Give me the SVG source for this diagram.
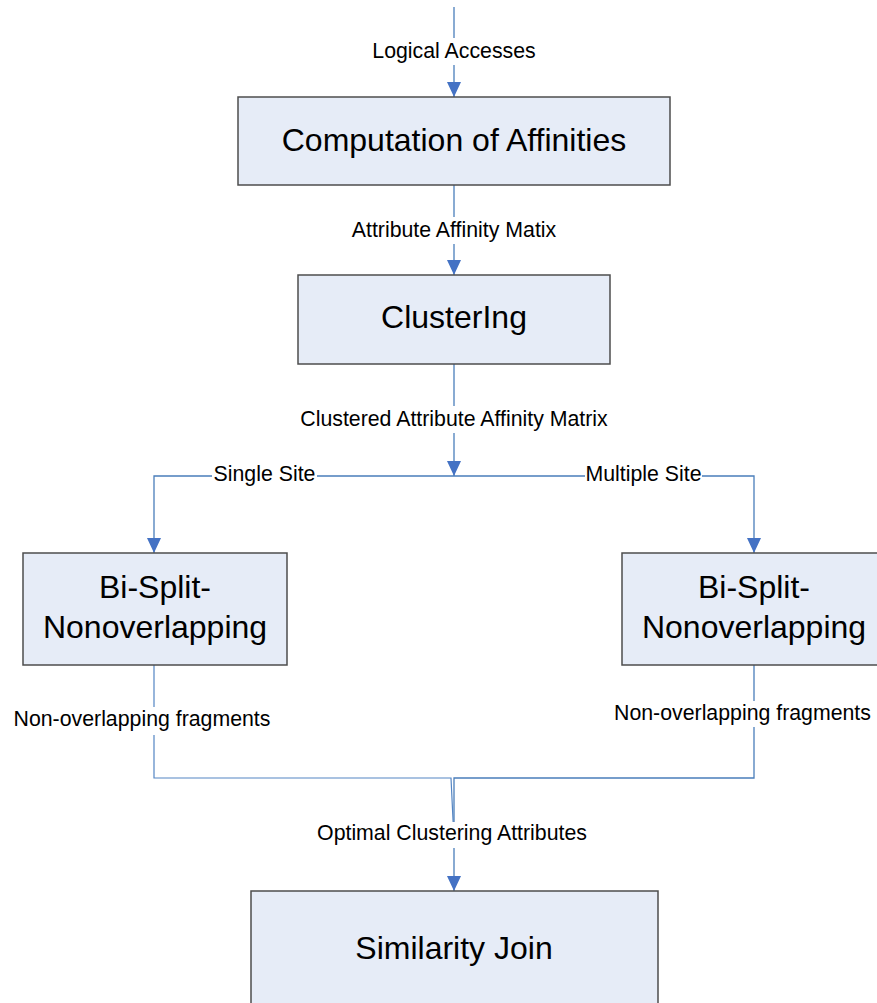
<svg xmlns="http://www.w3.org/2000/svg" width="877" height="1003" viewBox="0 0 877 1003">
  <style>
    .box { fill: #E6ECF7; stroke: #4D4D4D; stroke-width: 1.5; }
    .btxt { font-family: "Liberation Sans", Arial, sans-serif; font-size: 32px; fill: #000; text-anchor: middle; }
    .lbl { font-family: "Liberation Sans", Arial, sans-serif; font-size: 21.3px; fill: #000; text-anchor: middle; }
    .lblbg { fill: #FFFFFF; }
    .conn { fill: none; stroke: #4A7EBB; stroke-width: 1.3; }
    .thin { fill: none; stroke: #5485C3; stroke-width: 1.2; }
  </style>
  <defs>
    <marker id="arrow" markerUnits="userSpaceOnUse" markerWidth="16" markerHeight="16" viewBox="0 0 16 16" refX="15" refY="8" orient="auto">
      <path d="M0,1 L15,8 L0,15 Z" fill="#4472C4"/>
    </marker>
  </defs>

  <rect width="877" height="1003" fill="#FFFFFF"/>

  <!-- connectors -->
  <g id="connectors">
    <path class="conn" d="M454,7 V97" marker-end="url(#arrow)"/>
    <path class="conn" d="M454,185 V275" marker-end="url(#arrow)"/>
    <path class="conn" d="M454,364 V476" marker-end="url(#arrow)"/>
    <path class="conn" d="M454,476 H154 V553" marker-end="url(#arrow)"/>
    <path class="conn" d="M454,476 H754 V553" marker-end="url(#arrow)"/>
    <path class="thin" d="M154,665 V778 H451 L453.5,830"/>
    <path class="conn" d="M754,665 V778 H454 V891" marker-end="url(#arrow)"/>

    <!-- connector labels -->
    <g id="lbl-logical">
      <rect class="lblbg" x="370" y="38" width="168" height="27"/>
      <text class="lbl" x="454" y="58">Logical Accesses</text>
    </g>
    <g id="lbl-aam">
      <rect class="lblbg" x="348" y="217" width="211" height="27"/>
      <text class="lbl" x="454" y="237">Attribute Affinity Matix</text>
    </g>
    <g id="lbl-caam">
      <rect class="lblbg" x="297" y="406" width="314" height="27"/>
      <text class="lbl" x="454" y="426">Clustered Attribute Affinity Matrix</text>
    </g>
    <g id="lbl-single">
      <rect class="lblbg" x="212" y="462" width="105" height="26"/>
      <text class="lbl" x="264.5" y="481">Single Site</text>
    </g>
    <g id="lbl-multiple">
      <rect class="lblbg" x="585" y="462" width="117" height="26"/>
      <text class="lbl" x="643.5" y="481">Multiple Site</text>
    </g>
    <g id="lbl-frag-left">
      <rect class="lblbg" x="12" y="707" width="260" height="28"/>
      <text class="lbl" x="142" y="726">Non-overlapping fragments</text>
    </g>
    <g id="lbl-frag-right">
      <rect class="lblbg" x="612" y="701" width="262" height="26"/>
      <text class="lbl" x="742.5" y="720">Non-overlapping fragments</text>
    </g>
    <g id="lbl-optimal">
      <rect class="lblbg" x="314" y="822" width="276" height="26"/>
      <text class="lbl" x="452" y="840">Optimal Clustering Attributes</text>
    </g>
  </g>

  <!-- nodes -->
  <g id="node-affinities">
    <rect class="box" x="238" y="97" width="432" height="88"/>
    <text class="btxt" x="454" y="151">Computation of Affinities</text>
  </g>

  <g id="node-clustering">
    <rect class="box" x="298" y="275" width="312" height="89"/>
    <text class="btxt" x="454" y="328">ClusterIng</text>
  </g>

  <g id="node-bisplit-left">
    <rect class="box" x="23" y="553" width="264" height="112"/>
    <text class="btxt" x="155" y="598">Bi-Split-</text>
    <text class="btxt" x="155" y="638">Nonoverlapping</text>
  </g>

  <g id="node-bisplit-right">
    <rect class="box" x="622" y="553" width="264" height="112"/>
    <text class="btxt" x="754" y="598">Bi-Split-</text>
    <text class="btxt" x="754" y="638">Nonoverlapping</text>
  </g>

  <g id="node-similarity">
    <rect class="box" x="251" y="891" width="407" height="130"/>
    <text class="btxt" x="454" y="959">Similarity Join</text>
  </g>
</svg>
